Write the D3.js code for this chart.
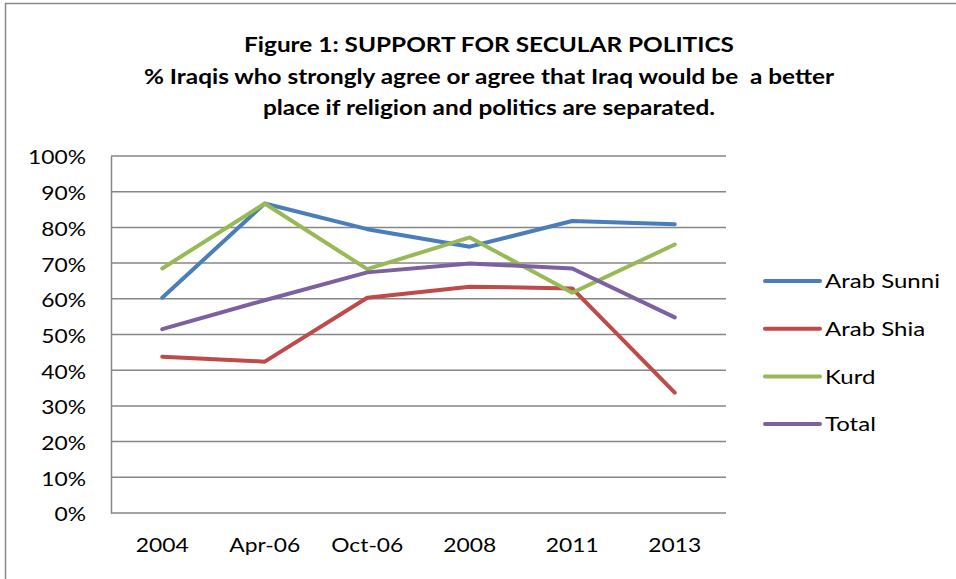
<!DOCTYPE html>
<html lang="en">
<head>
  <meta charset="UTF-8">
  <title>Support for Secular Politics</title>
  <script src="https://d3js.org/d3.v7.min.js"></script>
  <style>
    body { margin: 0; background: #fff; }
    svg text { font-family: Lato, "Open Sans", sans-serif; fill: #000; }
  </style>
</head>
<body>
  <div id="chart"></div>

  <script>
    // Data
    const years = ["2004", "Apr-06", "Oct-06", "2008", "2011", "2013"];
    const seriesNames = ["Arab Sunni", "Arab Shia", "Kurd", "Total"];
    const arabSunni = [60.3, 86.7, 79.5, 74.6, 81.8, 80.9];
    const arabShia = [43.8, 42.4, 60.3, 63.4, 62.9, 33.7];
    const kurd = [68.5, 86.7, 68.3, 77.2, 61.7, 75.2];
    const total = [51.5, 59.6, 67.4, 69.9, 68.5, 54.8];
    const yTicks = [0, 10, 20, 30, 40, 50, 60, 70, 80, 90, 100];
    const titleLines = [
      "Figure 1: SUPPORT FOR SECULAR POLITICS",
      "% Iraqis who strongly agree or agree that Iraq would be  a better",
      "place if religion and politics are separated."
    ];

    const colors = ["#4a7ebb", "#be4b48", "#98b954", "#7d60a0"];
    const allSeries = [arabSunni, arabShia, kurd, total];

    const width = 956, height = 579;
    const margin = { top: 156, right: 230, bottom: 66, left: 111 };
    const stretch = 1.2; // the original text is a bit wider than Lato

    const svg = d3.select("#chart")
      .append("svg")
      .attr("width", width)
      .attr("height", height);

    // outer frame
    svg.append("rect")
      .attr("x", 5.5).attr("y", 3.5)
      .attr("width", width + 10).attr("height", height + 10)
      .attr("fill", "none")
      .attr("stroke", "#888")
      .attr("stroke-width", 1.5);

    // Title
    svg.append("g")
      .selectAll("text")
      .data(titleLines)
      .join("text")
      .attr("transform", (d, i) => `translate(489,${52 + i * 31.5}) scale(1.16,1)`)
      .attr("text-anchor", "middle")
      .style("font-weight", "bold")
      .style("font-size", "21px")
      .style("white-space", "pre")
      .text(d => d);

    const x = d3.scaleBand()
      .domain(years)
      .range([margin.left, width - margin.right]);

    const y = d3.scaleLinear()
      .domain([0, 100])
      .range([height - margin.bottom, margin.top]);

    // gridlines
    svg.append("g")
      .selectAll("line")
      .data(yTicks)
      .join("line")
      .attr("x1", margin.left)
      .attr("x2", width - margin.right)
      .attr("y1", d => y(d))
      .attr("y2", d => y(d))
      .attr("stroke", "#868686")
      .attr("stroke-width", 1.5);

    // y axis
    const yAxis = svg.append("g")
      .attr("transform", `translate(${margin.left},0)`)
      .call(d3.axisLeft(y).tickValues(yTicks).tickFormat(d => d + "%").tickSize(0));
    yAxis.select(".domain").attr("stroke", "#868686").attr("stroke-width", 1.5);
    yAxis.selectAll("text")
      .attr("font-family", null)
      .attr("x", -25 / stretch)
      .attr("dy", "0.42em")
      .attr("transform", `scale(${stretch},1)`)
      .style("font-size", "19px");

    // x axis
    const xAxis = svg.append("g")
      .attr("transform", `translate(0,${height - margin.bottom})`)
      .call(d3.axisBottom(x).tickSize(0).tickPadding(26));
    xAxis.select(".domain").remove();
    xAxis.selectAll("text")
      .attr("font-family", null)
      .attr("transform", `scale(${stretch},1)`)
      .style("font-size", "19px");
    xAxis.selectAll(".tick")
      .attr("transform", d => `translate(${x(d) + x.bandwidth() / 2},0)`);

    // lines
    const line = d3.line()
      .x((d, i) => x(years[i]) + x.bandwidth() / 2)
      .y(d => y(d));

    svg.append("g")
      .selectAll("path")
      .data(allSeries)
      .join("path")
      .attr("d", d => line(d))
      .attr("fill", "none")
      .attr("stroke", (d, i) => colors[i])
      .attr("stroke-width", 4)
      .attr("stroke-linecap", "round")
      .attr("stroke-linejoin", "round");

    // legend
    const legend = svg.append("g")
      .selectAll("g")
      .data(seriesNames)
      .join("g")
      .attr("transform", (d, i) => `translate(765,${281 + i * 47.7})`);

    legend.append("line")
      .attr("x1", 0).attr("x2", 55)
      .attr("stroke", (d, i) => colors[i])
      .attr("stroke-width", 4)
      .attr("stroke-linecap", "round");

    legend.append("text")
      .attr("transform", `translate(60,0) scale(${stretch},1)`)
      .attr("dy", "0.36em")
      .style("font-size", "20px")
      .text(d => d);
  </script>
</body>
</html>
